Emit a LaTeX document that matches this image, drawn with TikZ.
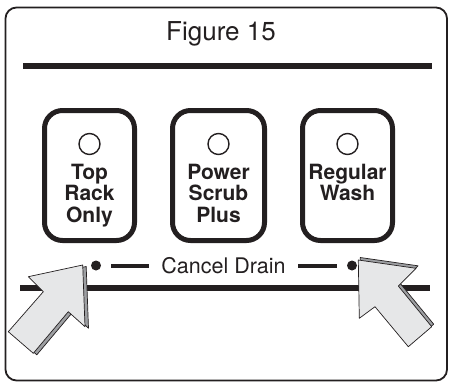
\documentclass[tikz,border=0pt]{standalone}
\usepackage{fontspec}
\setmainfont{TeX Gyre Heros}
\definecolor{inkc}{HTML}{231F20}
\definecolor{arrowface}{HTML}{E6E7E8}
\definecolor{arrowside}{HTML}{9D9FA2}
\begin{document}
\begin{tikzpicture}[x=1pt,y=-1pt,
  btn/.style={draw=inkc, line width=5pt, rounded corners=18pt},
  lamp/.style={draw=inkc, line width=1.4pt},
  btext/.style={font=\fontsize{21}{22}\selectfont\bfseries, text=inkc, anchor=base, inner sep=0pt},
  rule/.style={draw=inkc, line width=5.5pt},
  dotmark/.style={circle, fill=inkc, inner sep=0pt, minimum size=10pt},
  dashline/.style={draw=inkc, line width=4pt},
  arrowfront/.style={fill=arrowface, draw=inkc, line width=0.7pt, line join=round},
  arrowback/.style={fill=arrowside, draw=inkc, line width=0.7pt, line join=round}]
\useasboundingbox (0,0) rectangle (449,383);
% frame
\draw[inkc, line width=1.8pt, rounded corners=11pt] (5.5,7.5) rectangle (447,380.5);
% title
\node[font=\fontsize{26}{30}\selectfont, text=inkc, anchor=base, inner sep=0pt] (title) at (221,40) {Figure 15};
\draw[rule, line width=6pt] (23,66) -- (432,66);
% buttons
\draw[btn] (44.5,110.5) rectangle (134.5,240.5);
\draw[btn] (172.5,110.5) rectangle (264.5,240.5);
\draw[btn] (302.5,110.5) rectangle (392.5,240.5);
\draw[lamp] (89.5,144) circle (10.5);
\draw[lamp] (218.5,144) circle (10.5);
\draw[lamp] (347.5,144) circle (10.5);
\node[btext] (t1) at (89.5,179) {Top};
\node[btext] (t2) at (89.5,200.5) {Rack};
\node[btext] (t3) at (89.5,222) {Only};
\node[btext] (p1) at (218.5,179) {Power};
\node[btext] (p2) at (218.5,200.5) {Scrub};
\node[btext] (p3) at (218.5,222) {Plus};
\node[btext] (r1) at (347.5,179) {Regular};
\node[btext] (r2) at (347.5,200.5) {Wash};
% bottom rule
\draw[rule] (20,288) -- (430,288);
% cancel drain
\node[font=\fontsize{21.5}{24}\selectfont, text=inkc, anchor=base, inner sep=0pt] (cd) at (223.5,273) {Cancel Drain};
\node[dotmark] (dl) at (96,265.5) {};
\node[dotmark] (dr) at (352,265.5) {};
\draw[dashline, shorten <=10pt, shorten >=12pt] (dl) -- (dl -| cd.west);
\draw[dashline, shorten <=10pt, shorten >=12pt] (dr) -- (dr -| cd.east);
% left arrow
\draw[arrowback, shift={(3.5,1.5)}] (82.7,265) -- (28.3,276.7) -- (43.3,291.7) -- (8.3,331.7) -- (33.3,353.3) -- (68.3,311.7) -- (85,326.7) -- cycle;
\draw[arrowfront] (82.7,265) -- (28.3,276.7) -- (43.3,291.7) -- (8.3,331.7) -- (33.3,353.3) -- (68.3,311.7) -- (85,326.7) -- cycle;
% right arrow
\draw[arrowback, shift={(2,-2.5)}] (358.3,260) -- (416,268.3) -- (398.3,286) -- (431.7,326.7) -- (408.3,346.7) -- (375,306.7) -- (359.3,318.3) -- cycle;
\draw[arrowfront] (358.3,260) -- (416,268.3) -- (398.3,286) -- (431.7,326.7) -- (408.3,346.7) -- (375,306.7) -- (359.3,318.3) -- cycle;
\end{tikzpicture}
\end{document}
